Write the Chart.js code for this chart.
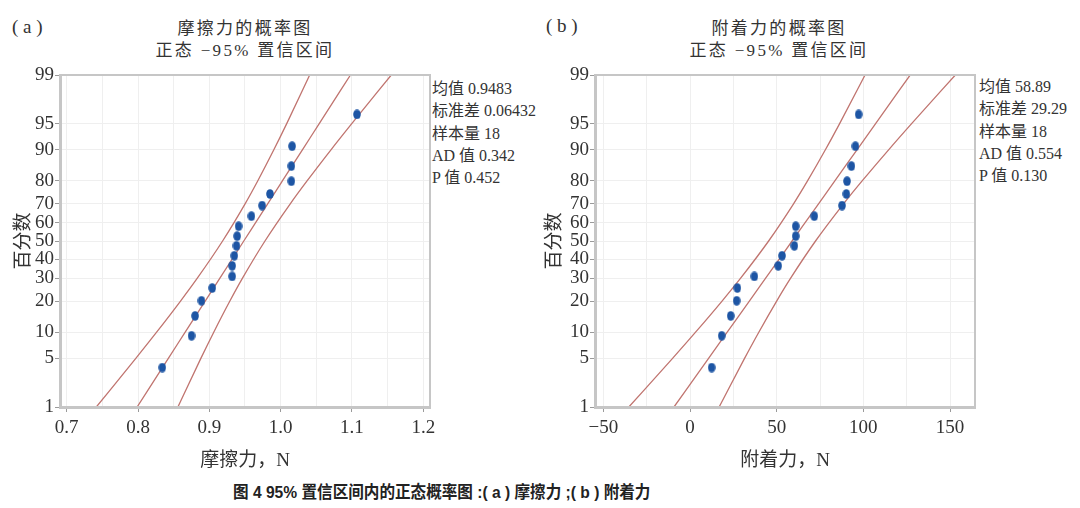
<!DOCTYPE html>
<html>
<head>
<meta charset="utf-8">
<script src="https://cdn.jsdelivr.net/npm/chart.js@4.4.1/dist/chart.umd.min.js"></script>
<style>
    body { margin: 0; background: #fff; }
    #page { position: relative; width: 1080px; height: 508px; overflow: hidden; background: #fff; }
    canvas { position: absolute; top: 60px; }
    .txt { position: absolute; white-space: nowrap; color: #333;
           font-family: "Liberation Serif", "Noto Sans CJK SC", serif; }
    .title { font-size: 17px; line-height: 22px; letter-spacing: 2.3px; transform: translateX(-50%); text-align: center; }
    .stats { font-size: 16px; line-height: 22.3px; }
    .panel { font-size: 19px; line-height: 20px; }
    #caption { left: 233px; top: 481px; font-size: 17px; line-height: 24px; font-weight: bold; color: #222;
               transform: scaleX(0.917); transform-origin: left center;
               font-family: "Liberation Sans", "Noto Sans CJK SC", sans-serif; }
</style>
</head>
<body>
<div id="page">
    <div class="txt panel" style="left:12px; top:17px;">( a )</div>
    <div class="txt title" style="left:245px; top:18px;">摩擦力的概率图<br>正态 −95% 置信区间</div>
    <div class="txt stats" style="left:432px; top:78px;">均值 0.9483<br>标准差 0.06432<br>样本量 18<br>AD 值 0.342<br>P 值 0.452</div>

    <div class="txt panel" style="left:546px; top:16px;">( b )</div>
    <div class="txt title" style="left:779px; top:18px;">附着力的概率图<br>正态 −95% 置信区间</div>
    <div class="txt stats" style="left:979px; top:76px;">均值 58.89<br>标准差 29.29<br>样本量 18<br>AD 值 0.554<br>P 值 0.130</div>

    <canvas id="chartA" width="540" height="420" style="left:0px;"></canvas>
    <canvas id="chartB" width="540" height="420" style="left:540px;"></canvas>

    <div class="txt" id="caption">图 4 95% 置信区间内的正态概率图 :( a ) 摩擦力 ;( b ) 附着力</div>
</div>

<script>
// plotting positions of the 18 samples, %
const rankPct = [3.8, 9.2, 14.7, 20.1, 25.5, 31.0, 36.4, 41.8, 47.3, 52.7, 58.2, 63.6, 69.0, 74.5, 79.9, 85.3, 90.8, 96.2];

// friction, N
const frictionX = [0.834, 0.875, 0.880, 0.889, 0.904, 0.932, 0.932, 0.935, 0.938, 0.939, 0.941, 0.959, 0.974, 0.985, 1.015, 1.015, 1.016, 1.107];
// adhesion, N
const adhesionX = [12.5, 18.3, 23.5, 26.9, 27.3, 37.1, 50.9, 53.1, 60.2, 61.0, 61.0, 71.7, 87.7, 90.2, 90.6, 93.1, 95.4, 97.3];

// fitted line and 95% band, read at these percentiles
const bandPct = [1, 5, 10, 20, 30, 50, 70, 80, 90, 95, 99];
const frictionFit  = [0.7987, 0.8425, 0.8659, 0.8942, 0.9146, 0.9483, 0.9820, 1.0024, 1.0307, 1.0541, 1.0979];
const frictionLow  = [0.7415, 0.7969, 0.8258, 0.8596, 0.8829, 0.9186, 0.9503, 0.9678, 0.9906, 1.0085, 1.0407];
const frictionHigh = [0.8559, 0.8881, 0.9060, 0.9288, 0.9463, 0.9780, 1.0137, 1.0370, 1.0708, 1.0997, 1.1551];
const adhesionFit  = [-9.24, 10.71, 21.35, 34.24, 43.53, 58.89, 74.25, 83.54, 96.43, 107.07, 127.02];
const adhesionLow  = [-35.29, -10.05, 3.09, 18.49, 29.10, 45.36, 59.82, 67.79, 78.17, 86.31, 100.97];
const adhesionHigh = [16.81, 31.47, 39.61, 49.99, 57.96, 72.42, 88.68, 99.29, 114.69, 127.83, 153.07];

// axis ticks
const yTicks = [1, 5, 10, 20, 30, 40, 50, 60, 70, 80, 90, 95, 99];
const frictionTicks = [0.7, 0.8, 0.9, 1.0, 1.1, 1.2];
const frictionGrid = [0.7, 0.75, 0.8, 0.85, 0.9, 0.95, 1.0, 1.05, 1.1, 1.15, 1.2];
const adhesionTicks = [-50, 0, 50, 100, 150];
const adhesionGrid = [-50, -25, 0, 25, 50, 75, 100, 125, 150];

// inverse normal cdf (Acklam), used as the probability scale
function probit(p) {
    const a = [-39.69683028665376, 220.9460984245205, -275.9285104469687, 138.3577518672690, -30.66479806614716, 2.506628277459239];
    const b = [-54.47609879822406, 161.5858368580409, -155.6989798598866, 66.80131188771972, -13.28068155288572];
    const c = [-0.007784894002430293, -0.3223964580411365, -2.400758277161838, -2.549732539343734, 4.374664141464968, 2.938163982698783];
    const d = [0.007784695709041462, 0.3224671290700398, 2.445134137142996, 3.754408661907416];
    const pl = 0.02425;
    let q, r;
    if (p < pl) {
        q = Math.sqrt(-2 * Math.log(p));
        return (((((c[0]*q+c[1])*q+c[2])*q+c[3])*q+c[4])*q+c[5]) / ((((d[0]*q+d[1])*q+d[2])*q+d[3])*q+1);
    }
    if (p > 1 - pl) {
        q = Math.sqrt(-2 * Math.log(1 - p));
        return -(((((c[0]*q+c[1])*q+c[2])*q+c[3])*q+c[4])*q+c[5]) / ((((d[0]*q+d[1])*q+d[2])*q+d[3])*q+1);
    }
    q = p - 0.5;
    r = q * q;
    return (((((a[0]*r+a[1])*r+a[2])*r+a[3])*r+a[4])*r+a[5])*q / (((((b[0]*r+b[1])*r+b[2])*r+b[3])*r+b[4])*r+1);
}
const Z = pct => probit(pct / 100);

// oval blue marker
const dot = document.createElement("canvas");
dot.width = 8; dot.height = 10;
(function () {
    const g = dot.getContext("2d");
    g.fillStyle = "#1d55a4";
    g.beginPath();
    g.ellipse(4, 5, 3.8, 4.8, 0, 0, Math.PI * 2);
    g.fill();
})();

const frame = {
    id: "frame",
    afterDatasetsDraw(chart) {
        const a = chart.chartArea;
        const ctx = chart.ctx;
        ctx.save();
        ctx.strokeStyle = "#c6c6c6";
        ctx.lineWidth = 2;
        ctx.strokeRect(a.left, a.top, a.right - a.left, a.bottom - a.top);
        ctx.restore();
    }
};

const lineColor = "#c0746f";
const tickFont = { family: "'Liberation Serif', serif", size: 19 };
const titleFont = { family: "'Liberation Serif', 'Noto Sans CJK SC', serif", size: 19 };

function makeChart(id, cfg) {
    const pts = cfg.xs.map((x, i) => ({ x: x, y: Z(rankPct[i]) }));
    const curve = arr => arr.map((x, i) => ({ x: x, y: Z(bandPct[i]) }));
    const lineSet = arr => ({
        data: curve(arr), showLine: true, pointRadius: 0, borderColor: lineColor,
        borderWidth: 1.3, cubicInterpolationMode: "monotone", order: 1
    });

    return new Chart(document.getElementById(id), {
        type: "scatter",
        data: {
            datasets: [
                { data: pts, pointStyle: dot, pointRadius: 5, order: 0 },
                lineSet(cfg.low), lineSet(cfg.fit), lineSet(cfg.high)
            ]
        },
        options: {
            responsive: false,
            animation: false,
            devicePixelRatio: 1,
            layout: { padding: { top: 15, right: cfg.padRight, left: 0, bottom: 0 } },
            plugins: { legend: { display: false }, tooltip: { enabled: false } },
            scales: {
                x: {
                    type: "linear", min: cfg.xMin, max: cfg.xMax,
                    afterBuildTicks(scale) { scale.ticks = cfg.grid.map(v => ({ value: v })); },
                    afterFit(scale) { scale.height = 73; },
                    ticks: {
                        autoSkip: false, maxRotation: 0, padding: 5, color: "#333", font: tickFont,
                        callback: v => cfg.ticks.some(t => Math.abs(t - v) < 1e-9) ? cfg.fmt(v) : ""
                    },
                    grid: {
                        color: "#efefef", tickLength: 5,
                        tickColor: c => cfg.ticks.some(t => Math.abs(t - c.tick.value) < 1e-9) ? "#9a9a9a" : "rgba(0,0,0,0)"
                    },
                    border: { color: "#c6c6c6", width: 3 },
                    title: { display: true, text: cfg.xTitle, color: "#333", font: titleFont, padding: { top: 0, bottom: 8 } }
                },
                y: {
                    type: "linear", min: Z(1), max: Z(99),
                    afterBuildTicks(scale) { scale.ticks = yTicks.map(p => ({ value: Z(p) })); },
                    afterFit(scale) { scale.width = cfg.yWidth; },
                    ticks: { autoSkip: false, padding: 1, color: "#333", font: tickFont, callback: (v, i) => yTicks[i] },
                    grid: { color: "#efefef", tickLength: 5, tickColor: "#9a9a9a" },
                    border: { color: "#c6c6c6", width: 3 },
                    title: { display: true, text: "百分数", color: "#333", font: titleFont, padding: { top: cfg.yTitlePad, bottom: 0 } }
                }
            }
        },
        plugins: [frame]
    });
}

makeChart("chartA", {
    xs: frictionX, low: frictionLow, fit: frictionFit, high: frictionHigh,
    xMin: 0.6906, xMax: 1.2094, grid: frictionGrid, ticks: frictionTicks,
    fmt: v => v.toFixed(1), xTitle: "摩擦力，N", padRight: 110, yWidth: 60, yTitlePad: 13
});

makeChart("chartB", {
    xs: adhesionX, low: adhesionLow, fit: adhesionFit, high: adhesionHigh,
    xMin: -54.8, xMax: 164.4, grid: adhesionGrid, ticks: adhesionTicks,
    fmt: v => v < 0 ? "\u2212" + Math.abs(v) : String(v), xTitle: "附着力，N", padRight: 105, yWidth: 55, yTitlePad: 4
});
</script>
</body>
</html>
